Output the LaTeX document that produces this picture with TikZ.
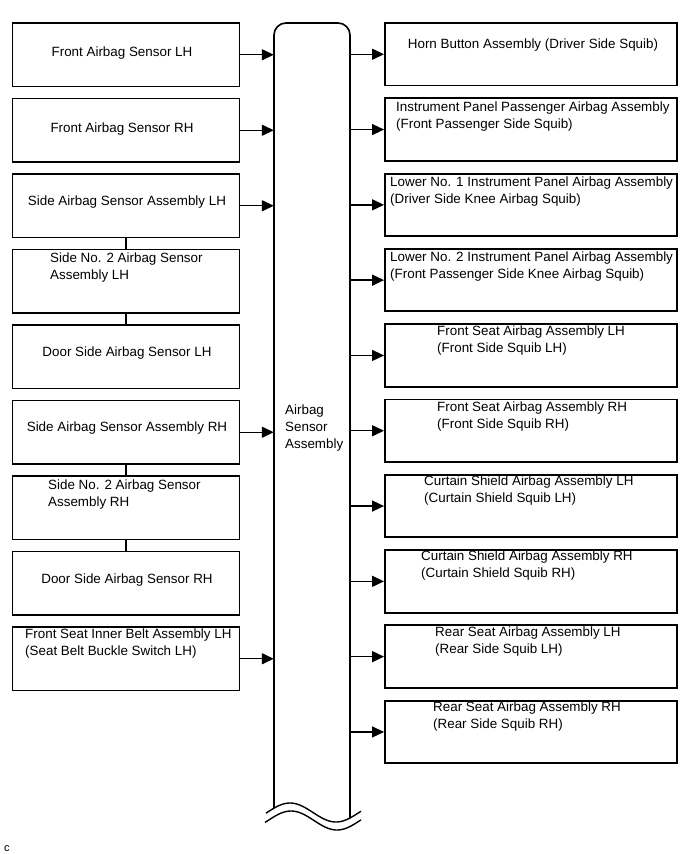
\documentclass[tikz,border=0pt]{standalone}
\usepackage{fontspec}
\setmainfont{Liberation Sans}
\usetikzlibrary{arrows.meta}
\tikzset{
  lbox/.style={draw, line width=1.9pt, minimum width=227pt, minimum height=63.5pt, inner sep=0pt},
  rbox/.style={draw, line width=1.9pt, minimum width=292pt, minimum height=62.5pt, inner sep=0pt},
  txt/.style={font=\fontsize{13.4}{17}\selectfont, inner sep=0pt, align=left, anchor=base west},
  ctxt/.style={font=\fontsize{13.4}{17}\selectfont, inner sep=0pt, anchor=base},
  arr/.style={line width=1.4pt, -{Triangle[length=12pt,width=11pt]}},
  link/.style={line width=1.4pt}
}
\begin{document}
\begin{tikzpicture}[x=1pt,y=-1pt]
\fill[white] (0,0) rectangle (690,854);
\useasboundingbox (0,0) rectangle (690,854);
% left boxes
\node[lbox] (l1) at (126,54.75) {};
\node[lbox] (l2) at (126,130.25) {};
\node[lbox] (l3) at (126,205.75) {};
\node[lbox] (l4) at (126,281.25) {};
\node[lbox] (l5) at (126,356.75) {};
\node[lbox] (l6) at (126,432.25) {};
\node[lbox] (l7) at (126,507.75) {};
\node[lbox] (l8) at (126,583.25) {};
\node[lbox] (l9) at (126,658.75) {};
% left texts (base of last line)
\node[ctxt] (lt1) at (122,56.5) {Front Airbag Sensor LH};
\node[ctxt] (lt2) at (122,132.5) {Front Airbag Sensor RH};
\node[ctxt] (lt3) at (127,205.5) {Side Airbag Sensor Assembly LH};
\node[txt] (lt4) at (50,279.5) {Side No. 2 Airbag Sensor\\Assembly LH};
\node[ctxt] (lt5) at (127,356.5) {Door Side Airbag Sensor LH};
\node[ctxt] (lt6) at (127,431.5) {Side Airbag Sensor Assembly RH};
\node[txt] (lt7) at (48,506.5) {Side No. 2 Airbag Sensor\\Assembly RH};
\node[ctxt] (lt8) at (127,583.5) {Door Side Airbag Sensor RH};
\node[txt] (lt9) at (25,655.5) {Front Seat Inner Belt Assembly LH\\(Seat Belt Buckle Switch LH)};
% links between left boxes
\draw[link] (l3.south) -- (l4.north);
\draw[link] (l4.south) -- (l5.north);
\draw[link] (l6.south) -- (l7.north);
\draw[link] (l7.south) -- (l8.north);
% central bar
\path node[minimum width=76pt, minimum height=795pt, inner sep=0pt] (bar) at (312,420.5) {};
\draw[line width=1.6pt, rounded corners=12pt] (274,808.2) -- (274,23) -- (350,23) -- (350,818);
\draw[line width=1.4pt] plot[domain=266:361, samples=50, smooth] (\x, {812.5-9.5*cos(3.913*(\x-290))});
\draw[line width=1.4pt] plot[domain=265:361, samples=50, smooth] (\x, {820.5-9.5*cos(3.913*(\x-291))});
\node[txt] (bt) at (285,448.5) {Airbag\\Sensor\\Assembly};
% arrows left to bar
\draw[arr] (l1.east) -- (l1.east -| bar.west);
\draw[arr] (l2.east) -- (l2.east -| bar.west);
\draw[arr] (l3.east) -- (l3.east -| bar.west);
\draw[arr] (l6.east) -- (l6.east -| bar.west);
\draw[arr] (l9.east) -- (l9.east -| bar.west);
% right boxes
\node[rbox] (r1) at (531,54.25) {};
\node[rbox] (r2) at (531,129.55) {};
\node[rbox] (r3) at (531,204.85) {};
\node[rbox] (r4) at (531,280.15) {};
\node[rbox] (r5) at (531,355.45) {};
\node[rbox] (r6) at (531,430.75) {};
\node[rbox] (r7) at (531,506.05) {};
\node[rbox] (r8) at (531,581.35) {};
\node[rbox] (r9) at (531,656.65) {};
\node[rbox] (r10) at (531,731.95) {};
% right texts (base of last line)
\node[ctxt] (rt1) at (533,48.5) {Horn Button Assembly (Driver Side Squib)};
\node[txt] (rt2) at (396,128.5) {Instrument Panel Passenger Airbag Assembly\\(Front Passenger Side Squib)};
\node[txt] (rt3) at (390,203.5) {Lower No. 1 Instrument Panel Airbag Assembly\\(Driver Side Knee Airbag Squib)};
\node[txt] (rt4) at (390,278.5) {Lower No. 2 Instrument Panel Airbag Assembly\\(Front Passenger Side Knee Airbag Squib)};
\node[txt] (rt5) at (437,352.5) {Front Seat Airbag Assembly LH\\(Front Side Squib LH)};
\node[txt] (rt6) at (437,428.5) {Front Seat Airbag Assembly RH\\(Front Side Squib RH)};
\node[txt] (rt7) at (424,502.5) {Curtain Shield Airbag Assembly LH\\(Curtain Shield Squib LH)};
\node[txt] (rt8) at (421,577.5) {Curtain Shield Airbag Assembly RH\\(Curtain Shield Squib RH)};
\node[txt] (rt9) at (435,653.5) {Rear Seat Airbag Assembly LH\\(Rear Side Squib LH)};
\node[txt] (rt10) at (433,728.5) {Rear Seat Airbag Assembly RH\\(Rear Side Squib RH)};
% arrows bar to right
\foreach \i in {1,...,10}{
  \draw[arr] (r\i.west -| bar.east) -- (r\i.west);
}
\node[txt, font=\fontsize{11}{13}\selectfont] (cc) at (4,851) {c};
\end{tikzpicture}
\end{document}
